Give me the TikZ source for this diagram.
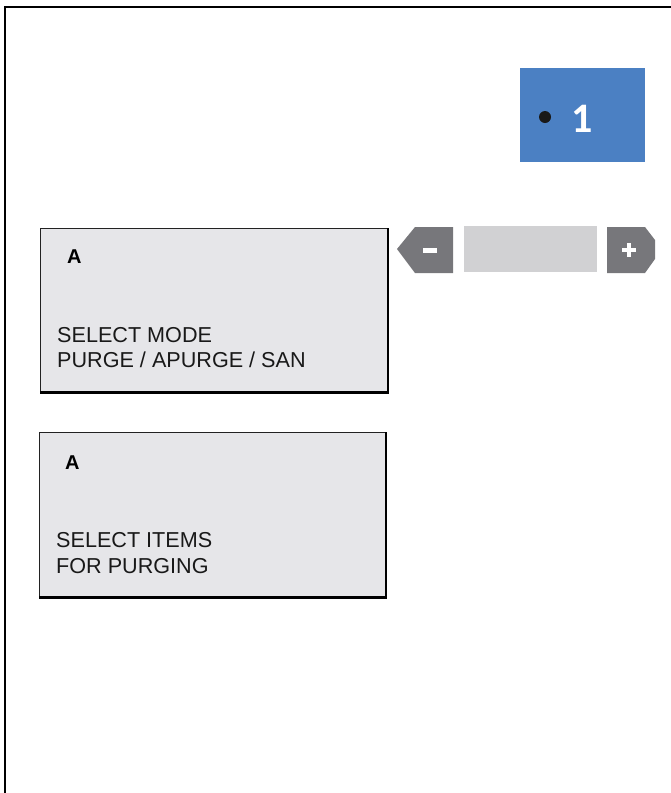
\documentclass[tikz,border=0pt]{standalone}
\usepackage{fontspec}
\setmainfont{Liberation Sans}
\newfontfamily\numfont{Carlito}
\definecolor{boxfill}{HTML}{E6E6E9}
\definecolor{keyblue}{HTML}{4B80C3}
\definecolor{btngray}{HTML}{77777B}
\definecolor{barfill}{HTML}{D1D1D3}
\definecolor{edgedark}{HTML}{222222}
\tikzset{
  lcd/.style={fill=boxfill, draw=edgedark, line width=1.8pt},
  lcdshadow/.style={draw=black, line width=2.8pt},
  big/.style={font=\fontsize{21.6}{25}\selectfont, inner sep=0pt, anchor=base west, text=black!90},
  letter/.style={font=\fontsize{20}{22}\selectfont\bfseries, inner sep=0pt, anchor=base west},
  btn/.style={fill=btngray, draw=none},
  sign/.style={fill=white, draw=none}
}
\begin{document}
\begin{tikzpicture}[x=1pt,y=-1pt]
\useasboundingbox (0,0) rectangle (671,793);
% frame
\draw[line width=1.5pt] (5,793) -- (5,7) -- (671,7);
% blue key
\node[fill=keyblue, minimum width=125pt, minimum height=94pt, inner sep=0pt, anchor=north west] (key) at (520,68) {};
\fill[black!90] (545,117) circle (6pt);
\node[text=white, font=\fontsize{42}{42}\selectfont\numfont\bfseries, inner sep=0pt, anchor=base] (one) at (582,132) {1};
% minus button
\fill[btn] (397,249) -- (415,227) -- (453,227) -- (453,273) -- (415,273) -- cycle;
\fill[sign] (423,247.5) rectangle (437,252.5);
% bar
\fill[barfill] (464,226) rectangle (597,272);
% plus button
\fill[btn] (607,227) -- (645,227) -- (655,240) -- (655,259) -- (645,273) -- (607,273) -- cycle;
\fill[sign] (622,247.8) rectangle (636,252.2);
\fill[sign] (626.8,243) rectangle (631.2,257);
% box 1
\draw[lcd] (40.5,228.5) rectangle (388,392);
\draw[lcdshadow] (388,228) -- (388,392.5) -- (39.5,392.5);
\node[letter] (a1) at (67,263.5) {A};
\node[big] (m1) at (57,342) {SELECT MODE};
\node[big] (m2) at (57,367) {PURGE / APURGE / SAN};
% box 2
\draw[lcd] (39.5,432.5) rectangle (386,597);
\draw[lcdshadow] (386,432) -- (386,597.5) -- (38.5,597.5);
\node[letter] (a2) at (65,469.5) {A};
\node[big] (i1) at (56,547) {SELECT ITEMS};
\node[big] (i2) at (56,573) {FOR PURGING};
\end{tikzpicture}
\end{document}
